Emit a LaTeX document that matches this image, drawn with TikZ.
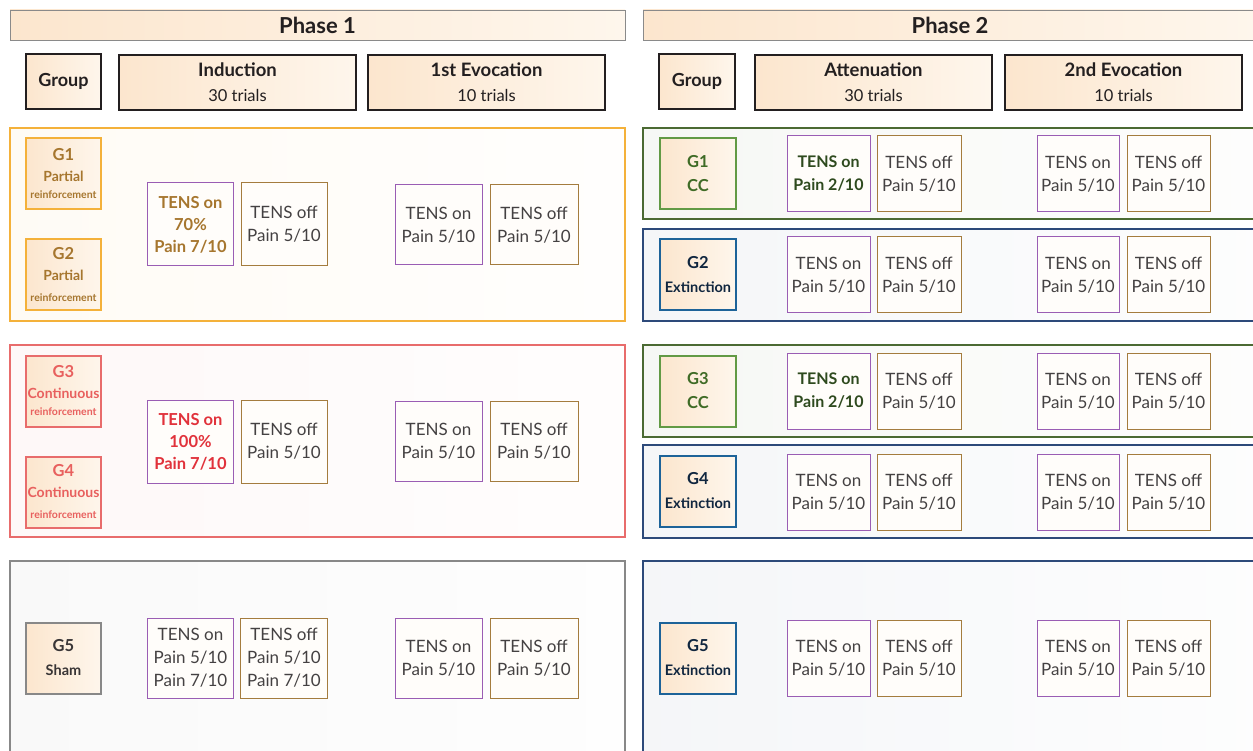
\documentclass[tikz,border=0pt]{standalone}
\usepackage{fontspec}
\setmainfont{Lato}
\definecolor{ink}{HTML}{231F20}
\definecolor{peachdark}{HTML}{FCE6CE}
\definecolor{peachlight}{HTML}{FEF6EC}
\definecolor{barline}{HTML}{8A8A8A}
\definecolor{onpurple}{HTML}{9A5DB4}
\definecolor{offbrown}{HTML}{A47C3E}
\definecolor{boxfill}{HTML}{FFFDFA}
\definecolor{orangeline}{HTML}{F4B13A}
\definecolor{redline}{HTML}{E86C6C}
\definecolor{greyline}{HTML}{888888}
\definecolor{greenline}{HTML}{4B6A33}
\definecolor{greenbox}{HTML}{629A45}
\definecolor{blueline}{HTML}{2D4A7A}
\definecolor{bluebox}{HTML}{1D6399}
\definecolor{goldtext}{HTML}{A6762E}
\definecolor{redtext}{HTML}{E8605E}
\definecolor{redbold}{HTML}{E1323B}
\definecolor{greentext}{HTML}{3F6B26}
\definecolor{greenbold}{HTML}{2E4A1E}
\definecolor{navytext}{HTML}{10263F}
\begin{document}
\begin{tikzpicture}
[x=1pt,y=-1pt,
  phasebar/.style={draw=barline,left color=peachdark,right color=peachlight,
    minimum height=30,inner sep=0pt,text=ink,font=\fontsize{22}{24}\selectfont\bfseries},%
  headbox/.style={draw=ink,line width=2pt,left color=peachdark,right color=peachlight,
    minimum height=55,inner sep=0pt,align=center,text=ink},%
  framebox/.style={line width=2pt,inner sep=0pt},%
  groupbox/.style={line width=2pt,left color=peachdark,right color=peachlight,
    minimum height=71,inner sep=0pt,align=center},%
  onbox/.style={draw=onpurple,fill=boxfill,line width=1pt,inner sep=0pt,
    align=center,text=ink!85,font=\fontsize{17}{23}\selectfont},%
  offbox/.style={onbox,draw=offbrown}]
\useasboundingbox (0,0) rectangle (1253,751);
\clip (0,0) rectangle (1253,751);
%% phase bars
\node (ph1) at (317.5,25) [phasebar,minimum width=615] {Phase 1};
\node (ph2) at (950,25) [phasebar,minimum width=614] {Phase 2};
%% column heads
\node (grp1) at (63.5,81.5) [headbox,minimum width=75,font=\fontsize{18}{20}\selectfont\bfseries] {Group};
\node (grp2) at (697,81.5) [headbox,minimum width=76,font=\fontsize{18}{20}\selectfont\bfseries] {Group};
\foreach \nodename/\x/\title/\trials in {ind/237.5/Induction/30, evo1/486.5/1st Evocation/10,
  att/873.5/Attenuation/30, evo2/1123.5/2nd Evocation/10} {
  \node (\nodename) at (\x,82.5) [headbox,minimum width=237,font=\fontsize{16.5}{25}\selectfont]
    {{\fontsize{18.5}{25}\selectfont\bfseries \title}\\\trials{} trials};
}
%% frames of the groups
\foreach \nodename/\x/\y/\w/\h/\col in {fa/317.5/224.5/615/193/orangeline,
  fb/317.5/441/615/192/redline, fc/317.5/660.5/615/199/greyline,
  fd/954/173.5/622/91/greenline, fe/954/275/622/92/blueline,
  ff/954/391/622/92/greenline, fg/954/491.5/622/93/blueline,
  fh/954/660.5/622/199/blueline} {
  \node (\nodename) at (\x,\y) [framebox,draw=\col,left color=\col!5,right color=\col!1,
    minimum width=\w,minimum height=\h] {};
}
%% group boxes, phase 1
\node (g1) at (63.5,173.5) [groupbox,draw=orangeline,minimum width=75,text=goldtext,
  font=\fontsize{14}{21}\selectfont\bfseries]
  {{\fontsize{16.5}{21}\selectfont G1}\\Partial\\[-4pt]{\fontsize{10.5}{12}\selectfont reinforcement}};
\node (g2) at (63.5,274.5) [groupbox,draw=orangeline,minimum width=75,text=goldtext,
  font=\fontsize{14}{21}\selectfont\bfseries]
  {{\fontsize{16.5}{21}\selectfont G2}\\Partial\\{\fontsize{10.5}{12}\selectfont reinforcement}};
\node (g3) at (63.5,391) [groupbox,draw=redline,minimum width=75,text=redtext,
  font=\fontsize{14}{21}\selectfont\bfseries]
  {{\fontsize{16.5}{21}\selectfont G3}\\Continuous\\[-4pt]{\fontsize{10.5}{12}\selectfont reinforcement}};
\node (g4) at (63.5,492) [groupbox,draw=redline,minimum width=75,text=redtext,
  font=\fontsize{14}{21}\selectfont\bfseries]
  {{\fontsize{16.5}{21}\selectfont G4}\\Continuous\\{\fontsize{10.5}{12}\selectfont reinforcement}};
\node (g5) at (63.5,658) [groupbox,draw=greyline,minimum width=75,text=ink!90,
  font=\fontsize{14.5}{24}\selectfont\bfseries]
  {{\fontsize{16.5}{24}\selectfont G5}\\Sham};
%% group boxes, phase 2
\foreach \nodename/\y/\col/\tcol/\gname/\label in {h1/173.5/greenbox/greentext/G1/{\fontsize{16.5}{24}\selectfont CC},
  h2/274.5/bluebox/navytext/G2/Extinction, h3/391/greenbox/greentext/G3/{\fontsize{16.5}{24}\selectfont CC},
  h4/491/bluebox/navytext/G4/Extinction, h5/658/bluebox/navytext/G5/Extinction} {
  \node (\nodename) at (698,\y) [groupbox,draw=\col,minimum width=76,text=\tcol,
    font=\fontsize{14.5}{24}\selectfont\bfseries]
    {{\fontsize{16.5}{24}\selectfont\gname}\\\label};
}
%% induction and first evocation
\node (ia) at (190.5,224.5) [onbox,minimum width=86,minimum height=83,text=goldtext,font=\fontsize{16.5}{22}\selectfont\bfseries]
  {TENS on\\70\%\\Pain 7/10};
\node (ib) at (190.5,441.5) [onbox,minimum width=86,minimum height=83,text=redbold,font=\fontsize{16.5}{22}\selectfont\bfseries]
  {TENS on\\100\%\\Pain 7/10};
\node (ic) at (190.5,658) [onbox,minimum width=86,minimum height=80]
  {TENS on\\Pain 5/10\\Pain 7/10};
\node (ja) at (284,224.5) [offbox,minimum width=86,minimum height=83] {TENS off\\Pain 5/10};
\node (jb) at (284,441.5) [offbox,minimum width=86,minimum height=83] {TENS off\\Pain 5/10};
\node (jc) at (284,658) [offbox,minimum width=87,minimum height=80] {TENS off\\Pain 5/10\\Pain 7/10};
\foreach \nodename/\y in {a/225, b/441, c/658.5} {
  \node (ka\nodename) at (438.5,\y) [onbox,minimum width=87,minimum height=80] {TENS on\\Pain 5/10};
  \node (kb\nodename) at (534,\y) [offbox,minimum width=88,minimum height=80] {TENS off\\Pain 5/10};
}
%% attenuation and second evocation
\foreach \nodename/\y in {1/174, 2/275, 3/391, 4/492, 5/658} {
  \node (ma\nodename) at (828.5,\y) [onbox,minimum width=83,minimum height=76] {TENS on\\Pain 5/10};
  \node (mb\nodename) at (919,\y) [offbox,minimum width=84,minimum height=76] {TENS off\\Pain 5/10};
  \node (na\nodename) at (1078,\y) [onbox,minimum width=82,minimum height=76] {TENS on\\Pain 5/10};
  \node (nb\nodename) at (1168.5,\y) [offbox,minimum width=83,minimum height=76] {TENS off\\Pain 5/10};
}
%% conditioned groups get the lower pain
\foreach \nodename in {1,3} {
  \node at (ma\nodename) [onbox,minimum width=83,minimum height=76,text=greenbold,font=\fontsize{16}{23}\selectfont\bfseries]
    {TENS on\\Pain 2/10};
}
\end{tikzpicture}
\end{document}
